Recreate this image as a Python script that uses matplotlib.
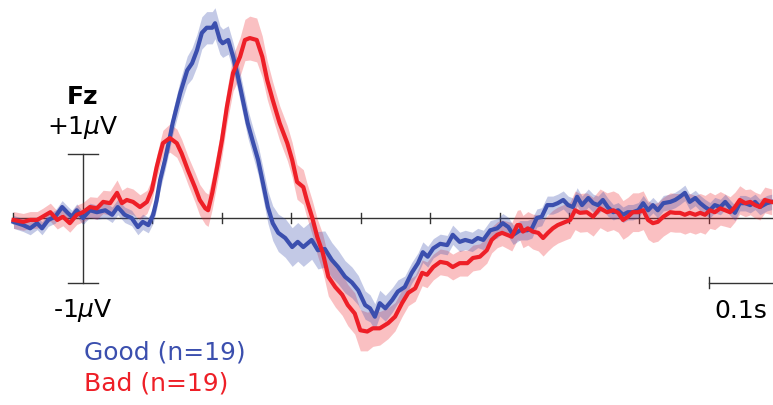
import matplotlib
matplotlib.use("Agg")
import matplotlib.pyplot as plt
import numpy as np

# ---- data (time in ms, amplitude in microvolts) ----
good_t = [-100, -86, -76, -66, -59, -50, -40, -30, -22, -16, -9, 0, 10, 20, 32, 42, 50, 60, 70, 79, 86, 94,
          101, 106, 111, 118, 125, 129,
          140, 150, 157, 164, 171, 178, 186, 190, 197, 201, 209, 216, 223, 230, 237, 245, 252, 259, 266,
          273, 281, 291, 301, 309, 317, 329, 338, 348, 358, 367,
          377, 387, 396, 406, 413, 420, 427, 435, 445, 453, 463, 473,
          482, 489, 496, 504, 514, 524, 532, 542, 550, 560, 568, 576, 586, 596, 604, 612, 619, 629, 639, 646,
          653, 660, 668, 676, 683, 691, 698, 705, 711, 718, 727, 734, 741, 748, 755,
          763, 770, 777, 784, 791, 799, 806, 813, 820, 827, 835, 845, 852, 859, 866, 873, 881, 888, 895, 902,
          909, 917, 924, 931, 938, 945, 953, 960, 967, 974, 984, 991]
good_v = [-0.06, -0.11, -0.16, -0.08, -0.16, -0.03, 0.02, 0.17, 0.08, 0.02, 0.12, 0.0, 0.12, 0.09, 0.12, 0.05,
          0.17, 0.05, 0.0, -0.14, -0.06, -0.11,
          0.05, 0.28, 0.59, 0.9, 1.25, 1.47,
          1.94, 2.29, 2.40, 2.6, 2.87, 2.95, 2.95, 3.02, 2.76, 2.71, 2.76, 2.5, 2.19, 1.83, 1.47, 1.16, 0.9,
          0.54, 0.17,
          -0.08, -0.23, -0.31, -0.45, -0.37, -0.45, -0.34, -0.5, -0.48, -0.65, -0.76,
          -0.91, -1.0, -1.12, -1.35, -1.4, -1.53, -1.32, -1.4, -1.27, -1.14, -1.07, -0.85,
          -0.7, -0.53, -0.6, -0.47, -0.40, -0.42, -0.26, -0.37, -0.34, -0.37, -0.31, -0.34, -0.19, -0.16,
          -0.08, -0.14, -0.26, -0.19, -0.19, -0.16,
          0.0, 0.02, 0.2, 0.2, 0.23, 0.28, 0.20, 0.17, 0.33, 0.2, 0.31, 0.23, 0.2, 0.28, 0.17,
          0.09, 0.12, 0.05, 0.09, 0.09, 0.12, 0.23, 0.12, 0.2, 0.12, 0.23, 0.25, 0.28, 0.33, 0.39, 0.25,
          0.31, 0.23, 0.17, 0.12,
          0.2, 0.17, 0.25, 0.16, 0.08, 0.23, 0.23, 0.2, 0.25, 0.17, 0.23, 0.25]
good_sem = [0.10, 0.10, 0.10, 0.10, 0.10, 0.10, 0.10, 0.10, 0.10, 0.10, 0.10, 0.10, 0.11, 0.11, 0.12, 0.12,
            0.12, 0.12, 0.12, 0.12, 0.12, 0.12,
            0.13, 0.14, 0.15, 0.16, 0.17, 0.18,
            0.20, 0.22, 0.24, 0.25, 0.25, 0.25, 0.25, 0.24, 0.22, 0.22, 0.22, 0.22, 0.22, 0.22, 0.22, 0.22,
            0.23, 0.24, 0.25,
            0.27, 0.29, 0.30, 0.30, 0.30, 0.30, 0.30, 0.29, 0.28, 0.27, 0.26,
            0.25, 0.24, 0.23, 0.22, 0.21, 0.20, 0.20, 0.20, 0.19, 0.18, 0.17, 0.16,
            0.16, 0.16, 0.16, 0.15, 0.15, 0.15, 0.15, 0.15, 0.15, 0.15, 0.15, 0.15, 0.15, 0.15, 0.15, 0.15,
            0.15, 0.15, 0.15, 0.15, 0.14, 0.14, 0.14, 0.14, 0.14, 0.14, 0.14, 0.14, 0.14, 0.14, 0.14, 0.14,
            0.14, 0.14, 0.14,
            0.12, 0.12, 0.12, 0.12, 0.12, 0.12, 0.12, 0.12, 0.12, 0.12, 0.12, 0.12, 0.12, 0.12, 0.12, 0.12,
            0.12, 0.12, 0.12, 0.12, 0.12, 0.12, 0.12, 0.12, 0.12, 0.12, 0.12, 0.12, 0.12, 0.12, 0.12, 0.12]

bad_t = [-100, -86, -76, -66, -58, -47, -37, -29, -19, -9, 0, 10, 20, 29, 39, 49, 56, 63, 72, 82, 92, 99,
         106, 111, 115, 125, 135, 142, 151, 161, 168, 176, 180, 186, 193, 200,
         207, 216, 226, 233, 240, 250, 258, 265, 273, 283, 294, 301, 308, 317, 322, 330,
         337, 345, 353, 363, 373, 381, 391, 399, 409, 417, 427, 439, 449, 459, 468, 478,
         488, 495, 504, 514, 524, 532, 542, 553, 561, 571, 581, 588, 596, 603, 610, 617, 625, 629, 633, 640,
         647, 655, 662, 669, 676, 683, 694, 701,
         708, 715, 725, 734, 744, 754, 763, 770, 777, 784, 791, 799, 806, 813, 820, 827, 835, 845, 852, 859,
         866, 873, 881, 888, 895,
         902, 909, 917, 924, 931, 938, 945, 953, 960, 967, 974, 981, 991]
bad_v = [-0.03, -0.06, -0.03, -0.03, 0.02, 0.09, -0.03, 0.02, -0.08, 0.05, 0.09, 0.17, 0.15, 0.25, 0.23, 0.39,
         0.23, 0.28, 0.25, 0.17, 0.25, 0.43,
         0.79, 1.0, 1.16, 1.24, 1.16, 1.0, 0.74, 0.48, 0.28, 0.15, 0.12, 0.39, 0.79, 1.21,
         1.72, 2.25, 2.5, 2.76, 2.79, 2.76, 2.5, 2.14, 1.83, 1.47, 1.16, 0.9, 0.56, 0.48, 0.28, 0.0,
         -0.29, -0.54, -0.91, -1.07, -1.19, -1.35, -1.48, -1.74, -1.76, -1.71, -1.71, -1.63, -1.53, -1.32,
         -1.16, -1.09,
         -0.85, -0.88, -0.76, -0.68, -0.70, -0.76, -0.70, -0.70, -0.62, -0.60, -0.50, -0.34, -0.26, -0.23,
         -0.26, -0.29, -0.11, -0.11, -0.21, -0.16, -0.21, -0.23, -0.31, -0.23, -0.16, -0.11, -0.06, -0.03,
         0.12, 0.08, 0.09, 0.02, 0.15, 0.09, 0.12, 0.08, -0.03, 0.02, 0.09, 0.09, 0.12, -0.03, -0.08, -0.06,
         0.02, 0.09, 0.08, 0.08, 0.05, 0.08, 0.05, 0.08, 0.05,
         0.12, 0.09, 0.15, 0.12, 0.09, 0.17, 0.28, 0.23, 0.25, 0.20, 0.17, 0.28, 0.25]
bad_sem = [0.13, 0.13, 0.13, 0.13, 0.13, 0.14, 0.14, 0.14, 0.14, 0.15, 0.15, 0.16, 0.17, 0.18, 0.19, 0.20,
           0.20, 0.20, 0.20, 0.19, 0.18, 0.17,
           0.18, 0.19, 0.20, 0.22, 0.22, 0.22, 0.22, 0.23, 0.24, 0.25, 0.25, 0.25, 0.25, 0.25,
           0.26, 0.28, 0.30, 0.32, 0.34, 0.34, 0.32, 0.30, 0.28, 0.27, 0.27, 0.27, 0.27, 0.27, 0.27, 0.27,
           0.28, 0.29, 0.30, 0.31, 0.32, 0.32, 0.32, 0.32, 0.30, 0.28, 0.26, 0.24, 0.22, 0.21, 0.20, 0.20,
           0.20, 0.20, 0.20, 0.20, 0.20, 0.20, 0.20, 0.20, 0.20, 0.20, 0.20, 0.20, 0.20, 0.20,
           0.21, 0.22, 0.23, 0.24, 0.25, 0.26, 0.27, 0.28, 0.28, 0.28, 0.28, 0.28, 0.28, 0.28,
           0.30, 0.30, 0.30, 0.30, 0.30, 0.30, 0.30, 0.30, 0.30, 0.30, 0.30, 0.30, 0.30, 0.30, 0.30, 0.30,
           0.30, 0.30, 0.30, 0.30, 0.30, 0.30, 0.30, 0.30, 0.30,
           0.28, 0.27, 0.26, 0.25, 0.24, 0.23, 0.22, 0.21, 0.20, 0.20, 0.20, 0.20, 0.20]

tick_times = [-100, 0, 100, 200, 300, 400, 500, 600, 700, 800, 900]
labels = ["Good (n=19)", "Bad (n=19)"]
channel = "Fz"

BLUE = "#3b4fae"
RED = "#ee1f27"
DARK = "#333333"

fig = plt.figure(figsize=(7.73, 4.05), dpi=100)
ax = fig.add_axes([0, 0, 1, 1])
ax.set_xlim(-119.4, 992.8)
ax.set_ylim(-2.899, 3.380)
ax.axis("off")

# baseline and ticks
ax.plot([-100, 1000], [0, 0], color=DARK, lw=1.0, zorder=1)
for tt in tick_times:
    ax.plot([tt, tt], [-0.08, 0.08], color=DARK, lw=1.0, zorder=1)

# vertical scale bar (+-1 uV)
ax.plot([0, 0], [-1, 1], color=DARK, lw=1.0, zorder=1)
ax.plot([-22, 22], [1, 1], color=DARK, lw=1.0, zorder=1)
ax.plot([-22, 22], [-1, -1], color=DARK, lw=1.0, zorder=1)

# horizontal scale bar (0.1 s)
ax.plot([900, 1000], [-1.0, -1.0], color=DARK, lw=1.0, zorder=1)
ax.plot([900, 900], [-1.09, -0.91], color=DARK, lw=1.0, zorder=1)

gt, gv, gs = np.array(good_t), np.array(good_v), np.array(good_sem)
bt, bv, bs = np.array(bad_t), np.array(bad_v), np.array(bad_sem)

ax.fill_between(bt, bv - bs, bv + bs, color=RED, alpha=0.28, lw=0, zorder=2)
ax.fill_between(gt, gv - gs, gv + gs, color=BLUE, alpha=0.30, lw=0, zorder=2)
ax.plot(gt, gv, color=BLUE, lw=3.0, zorder=3, solid_joinstyle="round")
ax.plot(bt, bv, color=RED, lw=3.0, zorder=4, solid_joinstyle="round")

fs = 18
ax.text(0, 1.88, channel, ha="center", va="center", fontsize=fs, fontweight="bold", color="black")
ax.text(0, 1.40, r"+1$\mu$V", ha="center", va="center", fontsize=fs, color="black")
ax.text(0, -1.44, r"-1$\mu$V", ha="center", va="center", fontsize=fs, color="black")
ax.text(946, -1.44, "0.1s", ha="center", va="center", fontsize=fs, color="black")
ax.text(2, -2.08, labels[0], ha="left", va="center", fontsize=fs, color=BLUE)
ax.text(2, -2.56, labels[1], ha="left", va="center", fontsize=fs, color=RED)

fig.savefig("out.png", dpi=100)
